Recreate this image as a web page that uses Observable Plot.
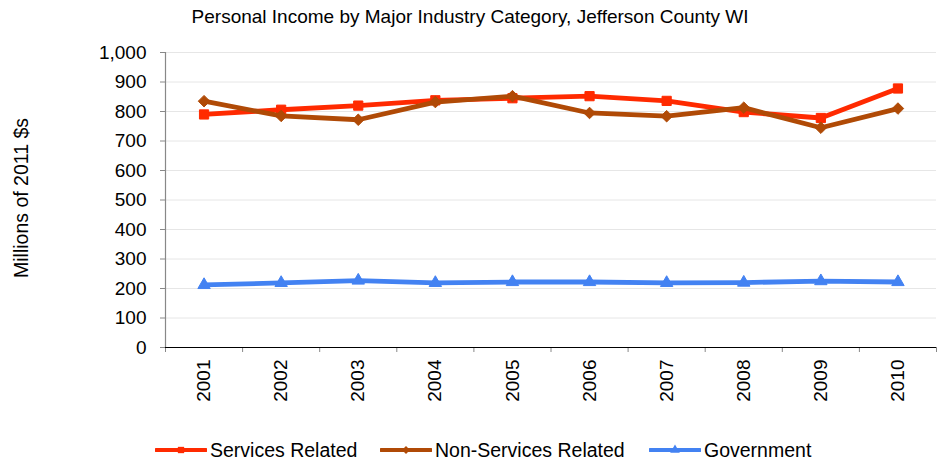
<!DOCTYPE html>
<html>
<head>
<meta charset="utf-8">
<script src="https://cdn.jsdelivr.net/npm/d3@7"></script>
<script src="https://cdn.jsdelivr.net/npm/@observablehq/plot@0.6"></script>
<style>
  html, body { margin: 0; padding: 0; background: #fff; }
  body { width: 940px; height: 462px; position: relative; overflow: hidden; font-family: "Liberation Sans", Arial, sans-serif; color: #000; }
  #title { position: absolute; top: 5px; left: 0; width: 940px; text-align: center; font-size: 19px; line-height: 24px; }
  #ylabel { position: absolute; left: 21px; top: 198px; transform: translate(-50%, -50%) rotate(-90deg); white-space: nowrap; font-size: 19.5px; }
  #chart { position: absolute; top: 32px; left: 0; }
  #legend { position: absolute; top: 437px; left: 0; width: 940px; height: 26px; font-size: 19.5px; }
  .item { position: absolute; top: 0; display: flex; align-items: center; height: 26px; }
  .item svg { display: block; margin-right: 3px; }
</style>
</head>
<body>
<div id="title"></div>
<div id="ylabel"></div>
<div id="chart"></div>
<div id="legend"></div>
<script>
const title = "Personal Income by Major Industry Category, Jefferson County WI";
const yLabel = "Millions of 2011 $s";
const years = [2001, 2002, 2003, 2004, 2005, 2006, 2007, 2008, 2009, 2010];
const seriesNames = ["Services Related", "Non-Services Related", "Government"];
const services    = [790, 806, 820, 838, 845, 852, 836, 798, 778, 878];
const nonServices = [835, 785, 772, 832, 852, 795, 784, 813, 745, 810];
const government  = [212, 219, 227, 219, 222, 222, 219, 220, 225, 222];
const yTicks = [0, 100, 200, 300, 400, 500, 600, 700, 800, 900, 1000];

const colors = ["#FF2A00", "#B04A06", "#4382F2"];
const symbols = ["square", "diamond2", "triangle"];
const radii = [5.2, 5.2, 4.6];
const values = [services, nonServices, government];

document.getElementById("title").textContent = title;
document.getElementById("ylabel").textContent = yLabel;

const rows = seriesNames.map((name, i) => years.map((y, j) => ({series: name, year: y, value: values[i][j]})));
const boundaries = [years[0] - 0.5, ...years.map(y => y + 0.5)];

const marks = [
  Plot.gridY(yTicks, {stroke: "#e6e6e6", strokeOpacity: 1, strokeWidth: 1}),
  Plot.axisY(yTicks, {tickSize: 5, tickPadding: 14, fontSize: 19, stroke: "#888", fill: "#000", tickFormat: d3.format(","), label: null}),
  Plot.axisX(years, {tickSize: 0, tickPadding: 12, tickRotate: -90, fontSize: 19, tickFormat: d => String(d), label: null}),
  Plot.axisX(boundaries, {tickSize: 5, stroke: "#888", tickFormat: () => "", label: null}),
  Plot.ruleX([boundaries[0]], {stroke: "#888", strokeWidth: 1.2}),
  Plot.ruleY([0], {stroke: "#000", strokeWidth: 1.2})
];
rows.forEach((data, i) => {
  marks.push(Plot.line(data, {x: "year", y: "value", stroke: colors[i], strokeWidth: 4.8, strokeLinejoin: "round"}));
  marks.push(Plot.dot(data, {x: "year", y: "value", symbol: () => symbols[i], r: radii[i], fill: colors[i], stroke: colors[i], strokeWidth: 1}));
});

const chart = Plot.plot({
  width: 940,
  height: 395,
  marginTop: 20,
  marginBottom: 80,
  marginLeft: 165,
  marginRight: 4,
  style: {fontFamily: "'Liberation Sans', Arial, sans-serif", color: "#000", background: "transparent"},
  x: {type: "linear", domain: [boundaries[0], boundaries[boundaries.length - 1]], axis: null},
  y: {domain: [0, 1000], axis: null},
  symbol: {type: "identity"},
  marks
});
document.getElementById("chart").appendChild(chart);

// legend
const legend = document.getElementById("legend");
const lefts = [155, 380, 649];
seriesNames.forEach((name, i) => {
  const item = document.createElement("div");
  item.className = "item";
  item.style.left = lefts[i] + "px";
  const sw = d3.create("svg").attr("width", 52).attr("height", 14);
  sw.append("line").attr("x1", 1).attr("x2", 51).attr("y1", 7).attr("y2", 7)
    .attr("stroke", colors[i]).attr("stroke-width", 4).attr("stroke-linecap", "round");
  const sym = {square: d3.symbolSquare, diamond2: d3.symbolDiamond2, triangle: d3.symbolTriangle}[symbols[i]];
  sw.append("path").attr("transform", "translate(26,7)").attr("d", d3.symbol(sym, 40)())
    .attr("fill", colors[i]);
  item.appendChild(sw.node());
  const t = document.createElement("span");
  t.textContent = name;
  item.appendChild(t);
  legend.appendChild(item);
});
</script>
</body>
</html>
